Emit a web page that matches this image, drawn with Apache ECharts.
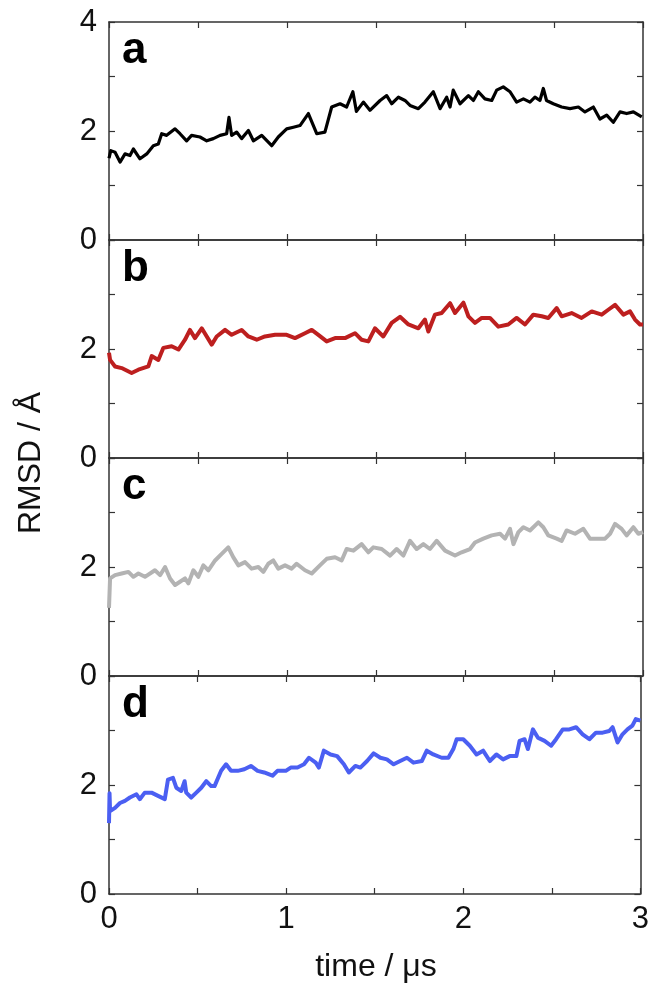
<!DOCTYPE html>
<html>
<head>
<meta charset="utf-8">
<script src="https://cdn.jsdelivr.net/npm/echarts@6/dist/echarts.min.js"></script>
<style>
  html, body { margin: 0; padding: 0; background: #fff; }
  #chart { width: 652px; height: 985px; }
</style>
</head>
<body>
<div id="chart"></div>
<script>
// panel a (black)
const timeA = [0, 0.01, 0.034, 0.062, 0.09, 0.118, 0.137, 0.174, 0.212, 0.249, 0.277, 0.296, 0.324, 0.371, 0.399, 0.436, 0.464, 0.511, 0.549, 0.586, 0.624, 0.661, 0.674, 0.689, 0.717, 0.745, 0.783, 0.811, 0.858, 0.914, 0.951, 0.998, 1.036, 1.073, 1.12, 1.167, 1.213, 1.251, 1.298, 1.335, 1.37, 1.39, 1.429, 1.466, 1.523, 1.56, 1.588, 1.626, 1.663, 1.691, 1.738, 1.775, 1.822, 1.86, 1.897, 1.916, 1.934, 1.972, 2.019, 2.047, 2.075, 2.112, 2.15, 2.178, 2.215, 2.253, 2.29, 2.328, 2.365, 2.393, 2.421, 2.44, 2.458, 2.496, 2.543, 2.59, 2.637, 2.674, 2.721, 2.758, 2.796, 2.833, 2.871, 2.908, 2.946, 2.993];
const rmsdA = [1.5, 1.64, 1.61, 1.43, 1.58, 1.55, 1.67, 1.49, 1.58, 1.73, 1.76, 1.95, 1.92, 2.04, 1.95, 1.82, 1.92, 1.89, 1.82, 1.86, 1.92, 1.95, 2.25, 1.92, 1.98, 1.86, 2.01, 1.82, 1.92, 1.73, 1.89, 2.04, 2.07, 2.1, 2.32, 1.95, 1.98, 2.44, 2.5, 2.44, 2.72, 2.36, 2.53, 2.38, 2.56, 2.65, 2.5, 2.62, 2.56, 2.47, 2.41, 2.53, 2.72, 2.41, 2.62, 2.44, 2.75, 2.5, 2.65, 2.56, 2.72, 2.59, 2.56, 2.75, 2.81, 2.72, 2.53, 2.59, 2.53, 2.62, 2.56, 2.78, 2.56, 2.5, 2.44, 2.41, 2.44, 2.35, 2.44, 2.22, 2.29, 2.16, 2.35, 2.32, 2.35, 2.26];

// panel b (red)
const timeB = [0, 0.006, 0.034, 0.071, 0.127, 0.165, 0.221, 0.24, 0.277, 0.305, 0.352, 0.39, 0.427, 0.455, 0.483, 0.521, 0.577, 0.605, 0.652, 0.689, 0.745, 0.783, 0.83, 0.876, 0.933, 0.998, 1.045, 1.101, 1.139, 1.176, 1.223, 1.27, 1.326, 1.382, 1.419, 1.457, 1.494, 1.541, 1.588, 1.635, 1.682, 1.738, 1.775, 1.794, 1.831, 1.869, 1.916, 1.944, 1.991, 2.019, 2.056, 2.094, 2.14, 2.187, 2.243, 2.29, 2.337, 2.384, 2.431, 2.468, 2.515, 2.543, 2.599, 2.655, 2.712, 2.768, 2.805, 2.843, 2.89, 2.927, 2.955, 2.983, 3.0];
const rmsdB = [1.93, 1.8, 1.68, 1.65, 1.56, 1.62, 1.68, 1.87, 1.8, 2.02, 2.05, 1.99, 2.17, 2.35, 2.2, 2.38, 2.08, 2.23, 2.35, 2.26, 2.35, 2.23, 2.17, 2.23, 2.26, 2.26, 2.2, 2.29, 2.35, 2.26, 2.14, 2.2, 2.2, 2.29, 2.17, 2.14, 2.38, 2.23, 2.48, 2.59, 2.45, 2.38, 2.54, 2.32, 2.63, 2.66, 2.84, 2.66, 2.85, 2.6, 2.48, 2.57, 2.57, 2.41, 2.45, 2.57, 2.45, 2.63, 2.6, 2.57, 2.75, 2.6, 2.66, 2.57, 2.69, 2.63, 2.72, 2.81, 2.63, 2.69, 2.54, 2.45, 2.45];

// panel c (grey)
const timeC = [0, 0.006, 0.034, 0.071, 0.109, 0.137, 0.165, 0.202, 0.258, 0.287, 0.315, 0.343, 0.371, 0.399, 0.427, 0.446, 0.474, 0.502, 0.53, 0.558, 0.596, 0.633, 0.67, 0.698, 0.727, 0.764, 0.801, 0.839, 0.867, 0.895, 0.923, 0.951, 0.989, 1.026, 1.054, 1.101, 1.139, 1.185, 1.223, 1.27, 1.307, 1.335, 1.373, 1.419, 1.457, 1.485, 1.532, 1.579, 1.616, 1.654, 1.691, 1.728, 1.766, 1.803, 1.841, 1.888, 1.944, 1.981, 2.028, 2.056, 2.103, 2.15, 2.197, 2.225, 2.253, 2.272, 2.3, 2.328, 2.365, 2.412, 2.44, 2.468, 2.515, 2.543, 2.571, 2.618, 2.665, 2.702, 2.749, 2.787, 2.815, 2.843, 2.88, 2.908, 2.946, 2.974, 3.0];
const rmsdC = [1.25, 1.79, 1.85, 1.88, 1.91, 1.82, 1.88, 1.82, 1.94, 1.85, 2.0, 1.79, 1.67, 1.73, 1.79, 1.7, 1.94, 1.82, 2.03, 1.94, 2.12, 2.24, 2.36, 2.18, 2.03, 2.09, 1.97, 2.0, 1.91, 2.06, 2.12, 1.97, 2.03, 1.97, 2.06, 1.94, 1.88, 2.03, 2.15, 2.18, 2.12, 2.33, 2.3, 2.42, 2.27, 2.36, 2.33, 2.21, 2.33, 2.21, 2.48, 2.33, 2.42, 2.33, 2.48, 2.3, 2.21, 2.27, 2.33, 2.45, 2.52, 2.58, 2.61, 2.52, 2.7, 2.42, 2.64, 2.73, 2.67, 2.82, 2.73, 2.58, 2.52, 2.48, 2.67, 2.61, 2.7, 2.52, 2.52, 2.52, 2.61, 2.79, 2.7, 2.58, 2.73, 2.61, 2.64];

// panel d (blue)
const timeD = [0, 0.003, 0.006, 0.034, 0.062, 0.09, 0.118, 0.155, 0.174, 0.202, 0.24, 0.277, 0.315, 0.333, 0.361, 0.38, 0.408, 0.427, 0.436, 0.464, 0.493, 0.521, 0.549, 0.577, 0.596, 0.633, 0.661, 0.689, 0.727, 0.764, 0.801, 0.839, 0.876, 0.923, 0.951, 0.998, 1.026, 1.064, 1.101, 1.129, 1.167, 1.185, 1.213, 1.251, 1.288, 1.326, 1.354, 1.391, 1.419, 1.457, 1.494, 1.532, 1.569, 1.607, 1.644, 1.682, 1.719, 1.766, 1.794, 1.831, 1.878, 1.916, 1.944, 1.963, 2.0, 2.037, 2.075, 2.112, 2.15, 2.187, 2.225, 2.262, 2.3, 2.318, 2.346, 2.365, 2.393, 2.421, 2.459, 2.496, 2.524, 2.562, 2.599, 2.637, 2.674, 2.712, 2.749, 2.787, 2.824, 2.843, 2.871, 2.899, 2.927, 2.955, 2.974, 3.0];
const rmsdD = [1.3, 1.85, 1.52, 1.58, 1.67, 1.71, 1.77, 1.83, 1.74, 1.86, 1.86, 1.8, 1.74, 2.1, 2.13, 1.95, 1.89, 2.07, 1.86, 1.77, 1.86, 1.95, 2.07, 1.98, 1.98, 2.26, 2.38, 2.26, 2.26, 2.29, 2.35, 2.26, 2.23, 2.17, 2.26, 2.26, 2.32, 2.32, 2.38, 2.5, 2.41, 2.32, 2.63, 2.56, 2.53, 2.38, 2.23, 2.35, 2.32, 2.44, 2.58, 2.5, 2.47, 2.38, 2.44, 2.5, 2.41, 2.44, 2.63, 2.56, 2.5, 2.5, 2.66, 2.84, 2.84, 2.72, 2.56, 2.63, 2.44, 2.56, 2.47, 2.53, 2.53, 2.81, 2.84, 2.66, 3.02, 2.87, 2.81, 2.72, 2.84, 3.02, 3.02, 3.06, 2.93, 2.84, 2.96, 2.96, 2.99, 3.06, 2.78, 2.93, 3.02, 3.09, 3.21, 3.18];

const panelLetters = ["a", "b", "c", "d"];
const lineColors = ["#000000", "#bd1f1f", "#b3b3b3", "#4b5ff2"];
const xTickLabels = ["0", "1", "2", "3"];

let chart = echarts.init(document.getElementById("chart"));

const times = [timeA, timeB, timeC, timeD];
const values = [rmsdA, rmsdB, rmsdC, rmsdD];
const tops = [22, 240, 458, 676];
const H = 218;
const FONT = '"Liberation Sans", Arial, sans-serif';
const axisColor = "#333";

let grid = [], xAxis = [], yAxis = [], series = [], graphic = [];

tops.forEach((top, i) => {
  grid.push({ left: 109, width: 534, top: top, height: H });
  // bottom + top x axes
  ["bottom", "top"].forEach((pos) => {
    xAxis.push({
      gridIndex: i,
      type: "value",
      position: pos,
      min: 0,
      max: 3,
      interval: 0.5,
      axisLine: { show: true, onZero: false, lineStyle: { color: axisColor, width: 1.5 } },
      axisTick: { show: true, inside: true, length: 6, lineStyle: { color: axisColor, width: 1.2 } },
      axisLabel: {
        show: pos === "bottom" && i === 3,
        fontSize: 31,
        fontFamily: FONT,
        color: "#111",
        margin: 10,
        formatter: (v) => (Number.isInteger(v) ? xTickLabels[v] : ""),
      },
      splitLine: { show: false },
    });
  });
  // left + right y axes
  ["left", "right"].forEach((pos) => {
    yAxis.push({
      gridIndex: i,
      type: "value",
      position: pos,
      min: 0,
      max: 4,
      interval: 1,
      axisLine: { show: true, onZero: false, lineStyle: { color: axisColor, width: 1.5 } },
      axisTick: { show: true, inside: true, length: 6, lineStyle: { color: axisColor, width: 1.2 } },
      axisLabel: {
        show: pos === "left",
        fontSize: 31,
        fontFamily: FONT,
        color: "#111",
        margin: 12,
        formatter: (v) => (v % 2 === 0 && (i === 0 || v < 4) ? String(v) : ""),
      },
      splitLine: { show: false },
    });
  });
  series.push({
    type: "line",
    xAxisIndex: 2 * i,
    yAxisIndex: 2 * i,
    showSymbol: false,
    symbol: "none",
    lineStyle: { color: lineColors[i], width: i === 0 ? 3.2 : 4, join: "round" },
    data: times[i].map((t, k) => [t, values[i][k]]),
    z: 1,
  });
  graphic.push({
    type: "text",
    x: 122,
    y: top + 29,
    style: {
      text: panelLetters[i],
      font: "bold 44px " + FONT,
      fill: "#000",
      textAlign: "left",
      textVerticalAlign: "middle",
    },
  });
});

graphic.push({
  type: "text",
  x: 31,
  y: 463,
  rotation: Math.PI / 2,
  style: {
    text: "RMSD / Å",
    font: "32px " + FONT,
    fill: "#111",
    textAlign: "center",
    textVerticalAlign: "middle",
  },
});
graphic.push({
  type: "text",
  x: 376,
  y: 967,
  style: {
    text: "time / μs",
    font: "32px " + FONT,
    fill: "#111",
    textAlign: "center",
    textVerticalAlign: "middle",
  },
});

chart.setOption({
  animation: false,
  grid: grid,
  xAxis: xAxis,
  yAxis: yAxis,
  series: series,
  graphic: graphic,
});
</script>
</body>
</html>
